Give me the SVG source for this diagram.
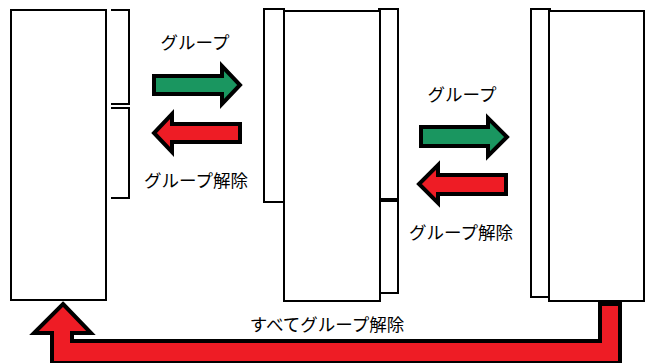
<svg xmlns="http://www.w3.org/2000/svg" width="645" height="363" viewBox="0 0 645 363">
<style>
.box{fill:#fff;stroke:#000;stroke-width:2}
.br{fill:none;stroke:#000;stroke-width:2}
.arr{stroke:#000;stroke-width:4;stroke-linejoin:miter}
.g{fill:#1a9660}
.r{fill:#ee1c25}
text{font-family:"Noto Sans CJK JP","Noto Sans",sans-serif;font-size:17.5px;fill:#000;text-anchor:middle}
</style>
<rect width="645" height="363" fill="#fff"/>
<g id="panel1">
<rect class="box" x="11" y="10" width="95" height="290"/>
<path class="br" d="M111 10H129V104H111"/>
<path class="br" d="M111 108H129V198H111"/>
</g>
<g id="panel2">
<rect class="box" x="264" y="9" width="20" height="193"/>
<rect class="box" x="379" y="9" width="19" height="190"/>
<rect class="box" x="379" y="201" width="19" height="92"/>
<rect class="box" x="284" y="11" width="96" height="290"/>
</g>
<g id="panel3">
<rect class="box" x="531" y="9" width="19" height="288"/>
<rect class="box" x="549" y="11" width="95" height="290"/>
</g>
<g id="connectors">
<path class="arr g" d="M154 76H222V66L240 85L222 104V94H154Z"/>
<path class="arr r" d="M240 124H172V114L154 133L172 152V142H240Z"/>
<path class="arr g" d="M421 127H488V118L507 137L488 156V146H421Z"/>
<path class="arr r" d="M506 175H438V165L419 184L438 203V194H506Z"/>
<path class="arr r" d="M63 304L91 333H72V341H600V304H620V363H52V333H34Z"/>
</g>
<g id="labels">
<text x="195" y="49">グループ</text>
<text x="196" y="187">グループ解除</text>
<text x="462" y="101">グループ</text>
<text x="461" y="239">グループ解除</text>
<text x="327" y="331">すべてグループ解除</text>
</g>
</svg>
